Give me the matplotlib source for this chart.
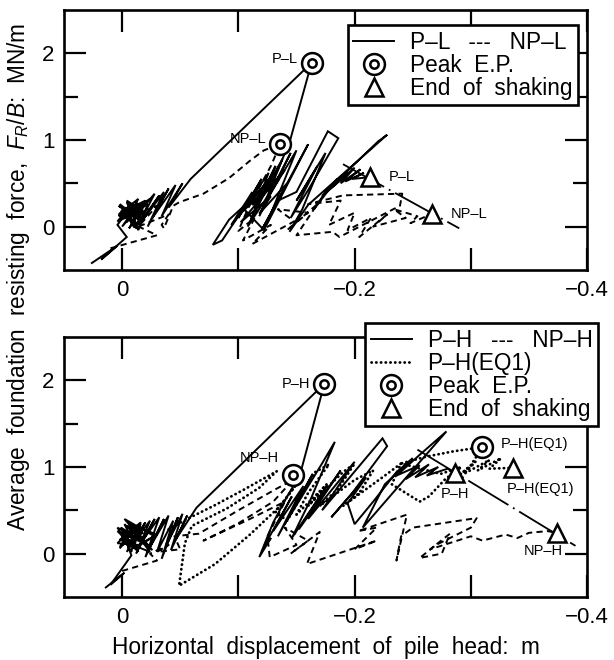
import matplotlib
matplotlib.use('Agg')
import matplotlib.pyplot as plt
from matplotlib.lines import Line2D

plt.rcParams['font.family'] = ['Liberation Sans', 'DejaVu Sans']
plt.rcParams['mathtext.fontset'] = 'custom'
plt.rcParams['mathtext.rm'] = 'Liberation Sans'
plt.rcParams['mathtext.it'] = 'Liberation Sans:italic'

# ---------------- data (m, MN/m) ----------------
# upper panel: P-L (solid) and NP-L (dashed)
pl_x = [0.026, 0.004, 0.018, -0.004,
        0.004, -0.006, 0.002, -0.010, 0.003, -0.014, 0.000, -0.018, -0.004, -0.012, 0.002, -0.020,
        -0.006, -0.016, 0.004, -0.008, -0.002, -0.018, 0.001, -0.012, -0.004, -0.020, -0.002, -0.014,
        -0.022, -0.008, 0.003, -0.016,
        -0.010, 0.002, -0.016, -0.004, -0.020, 0.000, -0.012, -0.018, -0.006, 0.003, -0.014, -0.008,
        -0.024, -0.010, -0.028, -0.014, -0.032, -0.018, -0.036, -0.022, -0.040,
        -0.026, -0.046, -0.034, -0.052, -0.040, -0.059,
        -0.163, -0.144, -0.136, -0.128, -0.110, -0.092, -0.078, -0.086, -0.100, -0.094, -0.112,
        -0.100, -0.120, -0.104, -0.126, -0.110, -0.132, -0.114, -0.138, -0.118, -0.145, -0.124,
        -0.150, -0.128, -0.160, -0.132, -0.122,
        -0.105, -0.130, -0.098, -0.125, -0.108, -0.135, -0.112, -0.140, -0.102, -0.128, -0.118,
        -0.142, -0.120, -0.134,
        -0.150, -0.177, -0.186, -0.160, -0.145, -0.168, -0.150, -0.175, -0.155, -0.144, -0.160,
        -0.228, -0.220, -0.175, -0.165, -0.185, -0.172, -0.195, -0.180, -0.200, -0.188, -0.205,
        -0.192, -0.208, -0.198, -0.213]
pl_y = [-0.42, -0.22, -0.38, -0.12,
        0.02, 0.20, 0.08, 0.24, 0.12, 0.27, 0.00, 0.28, 0.05, 0.22, 0.15, 0.30,
        -0.02, 0.18, 0.06, 0.26, 0.10, 0.20, 0.18, 0.04, 0.28, 0.12, 0.22, -0.04,
        0.26, 0.14, 0.24, 0.08,
        0.00, 0.26, 0.06, 0.30, 0.16, 0.20, -0.02, 0.24, 0.12, 0.14, 0.32, 0.18,
        0.32, 0.10, 0.38, 0.02, 0.36, 0.08, 0.40, 0.00, 0.44,
        0.10, 0.48, 0.12, 0.50, 0.22, 0.55,
        1.89, 0.97, 0.72, 0.50, 0.30, 0.08, -0.21, -0.16, 0.12, 0.02, 0.40,
        0.10, 0.55, 0.18, 0.62, 0.05, 0.70, 0.22, 0.78, 0.12, 0.85, 0.30,
        0.88, 0.15, 0.95, 0.22, -0.04,
        0.20, 0.60, 0.10, 0.45, 0.00, 0.55, 0.25, 0.65, 0.05, 0.35, 0.15,
        0.50, -0.04, 0.30,
        0.40, 1.10, 1.02, 0.42, 0.10, 0.70, 0.30, 0.85, 0.20, -0.06, 0.25,
        1.06, 0.98, 0.40, 0.20, 0.55, 0.35, 0.62, 0.45, 0.68, 0.50, 0.66,
        0.52, 0.62, 0.55, 0.57]

npl_x = [0.010, -0.030, -0.008, -0.022, -0.004, -0.030, -0.014, -0.040, -0.034, -0.036, -0.044,
         -0.049, -0.070, -0.092, -0.110, -0.122, -0.136, -0.128, -0.118, -0.108, -0.100, -0.114,
         -0.104, -0.128, -0.112, -0.148, -0.134, -0.160, -0.142, -0.168, -0.150, -0.181, -0.187,
         -0.239, -0.241, -0.190, -0.160, -0.188, -0.178, -0.200, -0.194, -0.214, -0.204, -0.228,
         -0.216, -0.244, -0.234, -0.254, -0.248, -0.267]
npl_y = [-0.25, -0.10, 0.04, 0.16, 0.10, 0.24, 0.00, 0.14, 0.02, -0.02, 0.24,
         0.28, 0.38, 0.56, 0.76, 0.88, 0.95, 0.70, 0.45, 0.20, -0.05, 0.10,
         -0.16, 0.02, -0.20, 0.06, 0.20, 0.16, -0.04, 0.26, -0.10, -0.06, -0.12,
         0.24, 0.38, 0.36, 0.26, 0.30, 0.02, 0.16, -0.04, 0.10, -0.12, 0.14,
         0.00, 0.10, 0.20, 0.12, 0.04, 0.15]

top_peak_x = [-0.163, -0.136]
top_peak_y = [1.89, 0.95]
top_end_x = [-0.213, -0.267]
top_end_y = [0.57, 0.15]
top_trend_x = [-0.190, -0.290]
top_trend_y = [0.72, -0.02]
top_names = ['P–L', 'NP–L']

# lower panel: P-H (solid), NP-H (dashed), P-H(EQ1) (dotted)
ph_x = [0.014, -0.002, 0.010, -0.008,
        0.001, -0.010, 0.001, -0.018, -0.002, -0.014, 0.004, -0.022, -0.006, -0.026, -0.004, -0.018,
        0.002, -0.012,
        -0.008, 0.004, -0.020, -0.002, -0.028, -0.010, -0.016, 0.002, -0.024, -0.006, -0.030, -0.014,
        0.004, -0.006, 0.002, -0.012, 0.000, -0.016, -0.004, -0.020,
        -0.008, -0.024, -0.012, -0.028, -0.016, -0.032, -0.020, -0.036, -0.024, -0.040, -0.030,
        -0.044, -0.034, -0.048, -0.038, -0.052, -0.042, -0.056, -0.046, -0.064,
        -0.174, -0.153, -0.142, -0.130, -0.118, -0.128, -0.122, -0.146, -0.130, -0.156, -0.134,
        -0.164, -0.140, -0.172, -0.183, -0.162, -0.146, -0.176, -0.152, -0.188, -0.160, -0.200,
        -0.172, -0.224, -0.228, -0.198, -0.180, -0.210, -0.194, -0.200, -0.216, -0.236, -0.250,
        -0.226, -0.207, -0.238, -0.279, -0.256, -0.236, -0.256, -0.244, -0.264, -0.252, -0.272,
        -0.262, -0.280, -0.286]
ph_y = [-0.39, -0.22, -0.36, -0.02,
        0.30, 0.06, 0.30, 0.14, 0.34, 0.02, 0.26, 0.10, 0.36, 0.04, 0.32, 0.24,
        0.08, 0.28,
        0.02, 0.30, 0.12, 0.40, 0.20, 0.06, 0.36, 0.16, 0.02, 0.34, 0.22, 0.10,
        0.12, 0.26, 0.06, 0.30, 0.16, 0.34, 0.02, 0.36,
        0.10, 0.38, 0.00, 0.40, 0.12, 0.42, -0.04, 0.40, 0.08, 0.44, 0.02,
        0.38, -0.06, 0.42, 0.10, 0.46, 0.04, 0.44, 0.16, 0.53,
        1.96, 0.91, 0.66, 0.36, -0.04, 0.18, 0.08, 0.66, 0.26, 0.78, 0.20,
        0.92, 0.34, 1.04, 1.29, 0.62, 0.18, 0.78, 0.28, 0.96, 0.40, 1.06,
        0.50, 1.33, 1.24, 0.70, 0.42, 0.88, 0.58, 0.34, 0.60, 0.94, 1.10,
        0.80, 0.30, 0.78, 1.41, 1.14, 0.90, 1.02, 0.86, 1.03, 0.88, 1.00,
        0.90, 0.98, 0.93]

nph_x = [0.000, -0.010, -0.030, -0.024, -0.040, -0.030, -0.050, -0.045, -0.066, -0.100, -0.133,
         -0.147, -0.130, -0.100, -0.070, -0.110, -0.140, -0.125, -0.127, -0.150, -0.140, -0.160,
         -0.145, -0.170, -0.159, -0.219, -0.200, -0.219, -0.203, -0.245, -0.236, -0.240, -0.250,
         -0.305, -0.300, -0.270, -0.256, -0.275, -0.282, -0.265, -0.300, -0.310, -0.330, -0.340,
         -0.350, -0.366, -0.374]
nph_y = [-0.20, -0.16, -0.08, 0.00, 0.10, 0.02, 0.05, 0.20, 0.23, 0.50, 0.75,
         0.85, 0.60, 0.35, 0.15, 0.40, 0.60, 0.20, -0.04, 0.10, 0.30, 0.15,
         0.00, 0.25, -0.12, 0.15, 0.05, 0.30, 0.26, 0.45, -0.08, 0.20, 0.30,
         0.41, 0.30, 0.10, -0.05, 0.00, 0.23, 0.05, 0.20, 0.15, 0.22, 0.18,
         0.24, 0.26, 0.24]

eq1_x = [-0.040, -0.056, -0.080, -0.105, -0.133, -0.118, -0.090, -0.060, -0.054, -0.049, -0.080,
         -0.110, -0.136, -0.150, -0.132, -0.142, -0.166, -0.178, -0.160, -0.150, -0.176, -0.160,
         -0.190, -0.200, -0.186, -0.170, -0.200, -0.216, -0.204, -0.190, -0.226, -0.240, -0.232,
         -0.256, -0.264, -0.278, -0.292, -0.274, -0.240, -0.262, -0.285, -0.310, -0.300, -0.288,
         -0.304, -0.294, -0.316, -0.306, -0.326, -0.316, -0.336]
eq1_y = [0.28, 0.40, 0.56, 0.74, 0.95, 0.76, 0.52, 0.32, 0.12, -0.37, -0.12,
         0.22, 0.55, 0.80, 0.48, 0.38, 0.94, 1.03, 0.70, 0.45, 0.80, 0.55,
         0.94, 1.04, 0.75, 0.55, 0.85, 0.96, 0.70, 0.55, 0.90, 1.04, 0.80,
         0.60, 0.66, 0.86, 1.00, 0.92, 1.04, 1.12, 1.18, 1.23, 1.02, 0.88,
         1.06, 0.92, 1.08, 0.96, 1.10, 0.98, 0.99]

bot_peak_x = [-0.174, -0.147, -0.310]
bot_peak_y = [1.96, 0.91, 1.23]
bot_end_x = [-0.286, -0.374, -0.336]
bot_end_y = [0.93, 0.24, 0.99]
bot_trend_x = [-0.254, -0.390]
bot_trend_y = [1.20, 0.09]
bot_names = ['P–H', 'NP–H', 'P–H(EQ1)']

xticks = [0.0, -0.1, -0.2, -0.3, -0.4]
xtick_labels = ['0', '', '−0.2', '', '−0.4']
yticks = [0, 1, 2]
yticks_minor = [0.5, 1.5]

# ---------------- plotting ----------------
FS = 16.3
fig = plt.figure(figsize=(6.14, 6.6), dpi=100)
ax1 = fig.add_axes([0.1042, 0.591, 0.852, 0.394])
ax2 = fig.add_axes([0.1042, 0.0955, 0.852, 0.394])

LW = 1.4
solid = dict(color='k', lw=LW, solid_joinstyle='miter')
dashed = dict(color='k', lw=LW, linestyle=(0, (3.2, 2.2)))
dotted = dict(color='k', lw=2.0, linestyle=(0, (0.1, 1.6)), dash_capstyle='round')
trend = dict(color='k', lw=1.3, linestyle=(0, (26, 3, 1, 3)))


def peak(ax, x, y):
    ax.plot(x, y, 'o', ms=15, mfc='white', mec='k', mew=1.8, zorder=5)
    ax.plot(x, y, 'o', ms=6, mfc='white', mec='k', mew=1.8, zorder=6)


def end(ax, x, y):
    ax.plot(x, y, '^', ms=13, mfc='white', mec='k', mew=1.8, zorder=5)


def style(ax):
    ax.set_xlim(0.05, -0.4)
    ax.set_ylim(-0.5, 2.5)
    ax.set_xticks(xticks)
    ax.set_xticklabels(xtick_labels)
    ax.set_yticks(yticks)
    ax.set_yticks(yticks_minor, minor=True)
    ax.tick_params(which='major', direction='in', top=True, right=True,
                   length=16, width=1.6, labelsize=16, pad=7)
    ax.tick_params(which='minor', direction='in', right=True, left=True,
                   length=10, width=1.6)
    for s in ax.spines.values():
        s.set_linewidth(1.9)


# upper panel
ax1.plot(pl_x, pl_y, **solid)
ax1.plot(npl_x, npl_y, **dashed)
ax1.plot(top_trend_x, top_trend_y, **trend)
peak(ax1, top_peak_x, top_peak_y)
end(ax1, top_end_x, top_end_y)
style(ax1)

ann = dict(fontsize=10.5, textcoords='offset points')
ax1.annotate(top_names[0], (top_peak_x[0], top_peak_y[0]), xytext=(-10, 3), ha='right', va='center', **ann)
ax1.annotate(top_names[1], (top_peak_x[1], top_peak_y[1]), xytext=(-10, 4), ha='right', va='center', **ann)
ax1.annotate(top_names[0], (top_end_x[0], top_end_y[0]), xytext=(14, 0), ha='left', va='center', **ann)
ax1.annotate(top_names[1], (top_end_x[1], top_end_y[1]), xytext=(13, 0), ha='left', va='center', **ann)

h_line = Line2D([], [], **solid)
h_dot = Line2D([], [], **dotted)
h_peak = (Line2D([], [], marker='o', ls='', ms=15, mfc='white', mec='k', mew=1.8),
          Line2D([], [], marker='o', ls='', ms=6, mfc='white', mec='k', mew=1.8))
h_end = Line2D([], [], marker='^', ls='', ms=13, mfc='white', mec='k', mew=1.8)

leg_kw = dict(loc='upper right', fontsize=FS, frameon=True, fancybox=False, framealpha=1,
              handlelength=1.8, handletextpad=0.7, labelspacing=0.0, borderpad=0.25,
              borderaxespad=0)
leg1 = ax1.legend([h_line, h_peak, h_end],
                  [top_names[0] + '   ---   ' + top_names[1], 'Peak  E.P.', 'End  of  shaking'],
                  bbox_to_anchor=(0.983, 0.942), **leg_kw)
leg1.get_frame().set_edgecolor('k')
leg1.get_frame().set_linewidth(1.9)

# lower panel
ax2.plot(ph_x, ph_y, **solid)
ax2.plot(nph_x, nph_y, **dashed)
ax2.plot(eq1_x, eq1_y, **dotted)
ax2.plot(bot_trend_x, bot_trend_y, **trend)
peak(ax2, bot_peak_x, bot_peak_y)
end(ax2, bot_end_x, bot_end_y)
style(ax2)

ax2.annotate(bot_names[0], (bot_peak_x[0], bot_peak_y[0]), xytext=(-10, 0), ha='right', va='center', **ann)
ax2.annotate(bot_names[1], (bot_peak_x[1], bot_peak_y[1]), xytext=(-10, 12), ha='right', va='center', **ann)
ax2.annotate(bot_names[2], (bot_peak_x[2], bot_peak_y[2]), xytext=(13, 2), ha='left', va='center', **ann)
ax2.annotate(bot_names[0], (bot_end_x[0], bot_end_y[0]), xytext=(0, -15), ha='center', va='center', **ann)
ax2.annotate(bot_names[1], (bot_end_x[1], bot_end_y[1]), xytext=(-10, -13), ha='center', va='center', **ann)
ax2.annotate(bot_names[2], (bot_end_x[2], bot_end_y[2]), xytext=(-4, -15), ha='left', va='center', **ann)

leg2 = ax2.legend([h_line, h_dot, h_peak, h_end],
                  [bot_names[0] + '   ---   ' + bot_names[1], bot_names[2], 'Peak  E.P.',
                   'End  of  shaking'],
                  bbox_to_anchor=(1.021, 1.054), **leg_kw)
leg2.get_frame().set_edgecolor('k')
leg2.get_frame().set_linewidth(1.9)

ax2.set_xlabel('Horizontal  displacement  of  pile  head:  m', fontsize=FS, labelpad=6)
fig.text(0.03, 1 - 277 / 660, 'Average  foundation  resisting  force,  $F_R$/$B$:  MN/m',
         rotation=90, ha='center', va='center', fontsize=FS)

fig.savefig('out.png', dpi=100)
